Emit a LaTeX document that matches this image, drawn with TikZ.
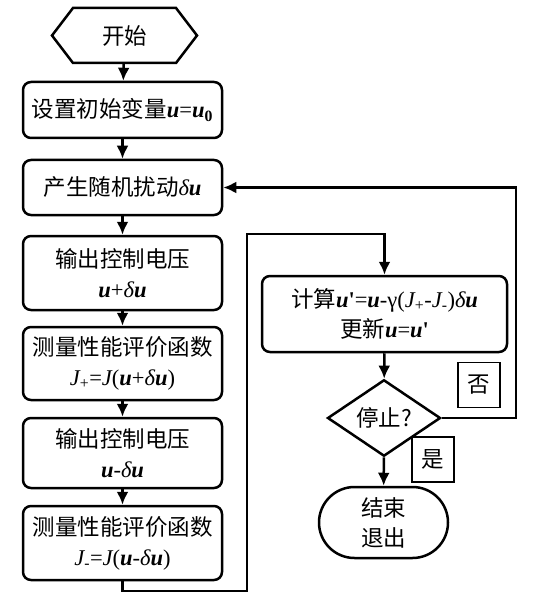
\documentclass[tikz,border=0pt]{standalone}
\usepackage{fontspec}
\setmainfont{Liberation Serif}
\newfontfamily\cjk{Noto Sans CJK SC}
\usetikzlibrary{arrows.meta,shapes.geometric,shapes.misc}
\newcommand{\bu}{{\bfseries\itshape u}}
\newcommand{\dl}{{\itshape δ}}
\newcommand{\pr}{{\bfseries\textquotesingle}}
\begin{document}
\begin{tikzpicture}[x=1pt,y=-1pt,
  every node/.style={font=\fontsize{22.5}{30}\selectfont, align=center, inner sep=0pt},
  box/.style={draw, line width=2.5pt, rounded corners=8pt, minimum width=199pt},
  lbl/.style={draw, line width=1.6pt, minimum width=42pt, minimum height=45pt},
  arr/.style={line width=2.5pt, -{Latex[length=13pt,width=12pt]}},
  ln/.style={line width=2.5pt}]
\useasboundingbox (0,0) rectangle (543,604);
% start hexagon
\draw[line width=2.5pt, line join=miter] (52,35.5) -- (73,8) -- (176,8) -- (197,35.5) -- (176,63) -- (73,63) -- cycle;
\node[minimum width=145pt, minimum height=55pt] (s) at (124.5,35.5) {\cjk 开始};
\node[box, minimum height=56pt] (b1) at (122.5,110) {\cjk 设置初始变量\normalfont\bu=\bu\textsubscript{\bfseries 0}};
\node[box, minimum height=55pt] (b2) at (122.5,187.5) {\cjk 产生随机扰动\normalfont\dl\bu};
\node[box, minimum height=74pt] (b3) at (122.5,273) {\cjk 输出控制电压\\ \bu+\dl\bu};
\node[box, minimum height=73pt] (b4) at (122.5,363.5) {\cjk 测量性能评价函数\\ \itshape J\textsubscript{\upshape +}\upshape=\itshape J\upshape(\bu+\dl\bu)};
\node[box, minimum height=70pt] (b5) at (122.5,453) {\cjk 输出控制电压\\ \bu-\dl\bu};
\node[box, minimum height=74pt] (b6) at (122.5,543) {\cjk 测量性能评价函数\\ \itshape J\textsubscript{\upshape -}\upshape=\itshape J\upshape(\bu-\dl\bu)};
\node[box, minimum width=245pt, minimum height=76pt] (b7) at (384.5,314) {{\cjk 计算}\bu\pr=\bu-γ(\itshape J\textsubscript{\upshape +}\upshape-\itshape J\textsubscript{\upshape -}\upshape)\dl\bu\\ {\cjk 更新}\bu=\bu\pr};
\node[draw, diamond, line width=2.5pt, minimum width=113pt, minimum height=55pt] (d) at (384,418) {\cjk 停止?};
\node[draw, rounded rectangle, line width=2.5pt, minimum width=129pt, minimum height=71pt] (e) at (383.5,522.5) {\cjk 结束\\ \cjk 退出};
\node[lbl] (no) at (479,385) {\cjk 否};
\node[lbl] (yes) at (433,459.5) {\cjk 是};
% connectors
\draw[arr] (s) -- (b1);
\draw[arr] (b1) -- (b2);
\draw[arr] (b2) -- (b3);
\draw[arr] (b3) -- (b4);
\draw[arr] (b4) -- (b5);
\draw[arr] (b5) -- (b6);
\coordinate (c1) at (122.5,591);
\coordinate (c2) at (247,234);
\draw[arr] (b6.south) -- (c1) -| (c2) -| (b7.north);
\draw[arr] (b7) -- (d);
\draw[arr] (d) -- (e);
\coordinate (r) at (516,187.5);
\draw[arr] (d.east) -| (r) -- (b2.east);
\end{tikzpicture}
\end{document}
